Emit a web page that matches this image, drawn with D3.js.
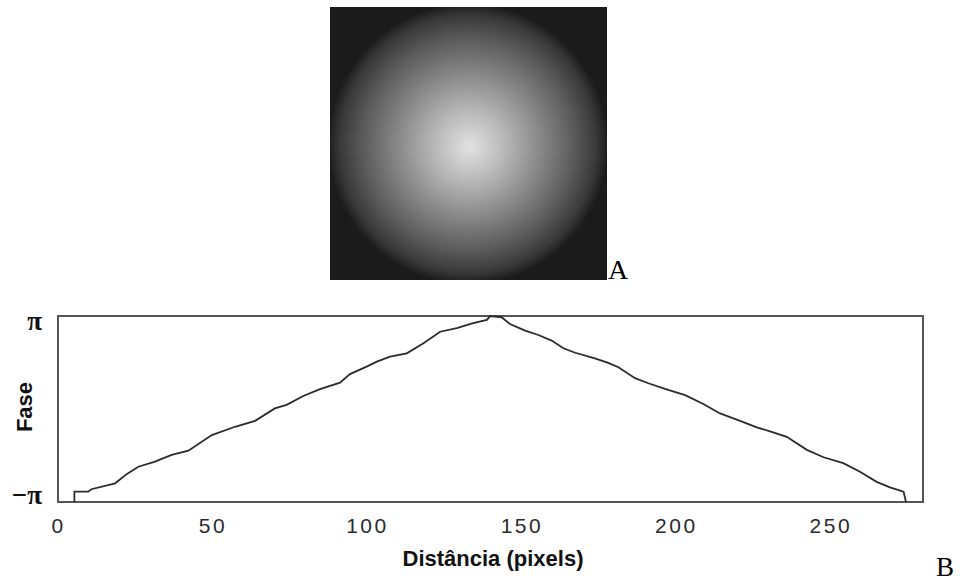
<!DOCTYPE html>
<html>
<head>
<meta charset="utf-8">
<script src="https://cdn.jsdelivr.net/npm/d3@7"></script>
<style>
  body { margin: 0; background: #fff; }
</style>
</head>
<body>
<div id="fig"></div>
<script>
// phase profile (x in pixels, phase in radians)
let distancia = [5.3, 5.3, 9.8, 10.8, 18.5, 22.2, 26.0, 31.4, 36.8, 42.2, 49.8, 57.3, 63.8, 70.2,
    74.0, 79.4, 84.8, 91.3, 94.5, 99.9, 103.2, 107.5, 112.9, 118.3, 123.7, 129.1, 134.4, 138.8,
    139.9, 143.6, 146.3, 151.2, 155.5, 159.8, 163.6, 167.4, 173.8, 178.1, 181.4, 186.8, 191.1,
    196.5, 203.0, 208.9, 214.3, 220.8, 226.2, 231.0, 235.9, 242.4, 247.8, 254.2, 259.6, 265.0,
    269.3, 273.7, 274.5];
let fase = [-3.14, -2.79, -2.79, -2.71, -2.51, -2.20, -1.95, -1.78, -1.55, -1.41, -0.88, -0.60, -0.40, 0.02,
    0.14, 0.44, 0.67, 0.89, 1.18, 1.43, 1.60, 1.77, 1.88, 2.22, 2.61, 2.73, 2.90, 3.01,
    3.14, 3.10, 2.87, 2.65, 2.50, 2.31, 2.05, 1.90, 1.71, 1.56, 1.41, 1.04, 0.87,
    0.68, 0.47, 0.17, -0.15, -0.40, -0.62, -0.77, -0.94, -1.38, -1.63, -1.83, -2.12, -2.46,
    -2.65, -2.79, -3.14];
let xTicks = [0, 50, 100, 150, 200, 250];
let yTicks = [-Math.PI, Math.PI];
let yTickLabels = ["\u2212\u03c0", "\u03c0"];

// radial brightness of the phase map (offset, gray)
let mapStops = [0, 0.25, 0.5, 0.75, 0.92, 1];
let mapGrays = ["#e2e2e2", "#b8b8b8", "#8a8a8a", "#5c5c5c", "#383838", "#1b1b1b"];

let width = 964, height = 582;
let margin = {left: 58, right: 41, top: 316, bottom: 80};

let svg = d3.select("#fig")
    .append("svg")
    .attr("width", width)
    .attr("height", height);

// --- panel A: phase map ---
let defs = svg.append("defs");
let grad = defs.append("radialGradient")
    .attr("id", "phaseMap")
    .attr("gradientUnits", "userSpaceOnUse")
    .attr("cx", 468).attr("cy", 144).attr("r", 140)
    .attr("fx", 470).attr("fy", 147);
grad.selectAll("stop")
    .data(mapStops)
    .enter()
    .append("stop")
    .attr("offset", d => d)
    .attr("stop-color", (d, i) => mapGrays[i]);

svg.append("rect")
    .attr("x", 330).attr("y", 7)
    .attr("width", 277).attr("height", 273)
    .attr("fill", "#171717");
svg.append("rect")
    .attr("x", 330).attr("y", 7)
    .attr("width", 277).attr("height", 273)
    .attr("fill", "url(#phaseMap)");

svg.append("text")
    .attr("x", 608).attr("y", 279)
    .style("font-family", "Liberation Serif, Times New Roman, serif")
    .style("font-size", "28px")
    .text("A");

// --- panel B: phase profile ---
let x = d3.scaleLinear()
    .domain([0, 280])
    .range([margin.left, width - margin.right]);
let y = d3.scaleLinear()
    .domain([-Math.PI, Math.PI])
    .range([height - margin.bottom, margin.top]);

svg.append("rect")
    .attr("x", x(0)).attr("y", y(Math.PI))
    .attr("width", x(280) - x(0))
    .attr("height", y(-Math.PI) - y(Math.PI))
    .attr("fill", "none")
    .attr("stroke", "#555")
    .attr("stroke-width", 2);

let xAxis = svg.append("g")
    .attr("transform", `translate(0, ${y(-Math.PI)})`)
    .call(d3.axisBottom(x).tickValues(xTicks).tickSize(0).tickPadding(16));
xAxis.select(".domain").remove();
xAxis.selectAll("text")
    .style("font-family", "Liberation Sans, Arial, sans-serif")
    .style("font-size", "21px")
    .style("letter-spacing", "2.5px")
    .attr("fill", "#2a2a2a");

let yAxis = svg.append("g")
    .attr("transform", `translate(${x(0)}, 0)`)
    .call(d3.axisLeft(y).tickValues(yTicks).tickSize(0).tickPadding(16)
        .tickFormat((d, i) => yTickLabels[i]));
yAxis.select(".domain").remove();
yAxis.selectAll("text")
    .style("font-family", "Liberation Serif, Times New Roman, serif")
    .style("font-size", "27px")
    .style("font-weight", 700)
    .attr("fill", "#111")
    .attr("dy", (d, i) => i === 0 ? "0.05em" : "0.5em");

let line = d3.line()
    .x(d => x(d[0]))
    .y(d => y(d[1]));

svg.append("path")
    .datum(d3.zip(distancia, fase))
    .attr("d", line)
    .attr("fill", "none")
    .attr("stroke", "#2b2b2b")
    .attr("stroke-width", 1.8);

svg.append("text")
    .attr("x", 493).attr("y", 566)
    .style("text-anchor", "middle")
    .style("font-family", "Liberation Sans, Arial, sans-serif")
    .style("font-size", "22px")
    .style("font-weight", 700)
    .attr("fill", "#111")
    .text("Distância (pixels)");

svg.append("text")
    .attr("transform", `translate(32, 407) rotate(-90)`)
    .style("text-anchor", "middle")
    .style("font-family", "Liberation Sans, Arial, sans-serif")
    .style("font-size", "22px")
    .style("font-weight", 700)
    .attr("fill", "#111")
    .text("Fase");

svg.append("text")
    .attr("x", 936).attr("y", 576)
    .style("font-family", "Liberation Serif, Times New Roman, serif")
    .style("font-size", "27px")
    .text("B");
</script>
</body>
</html>
